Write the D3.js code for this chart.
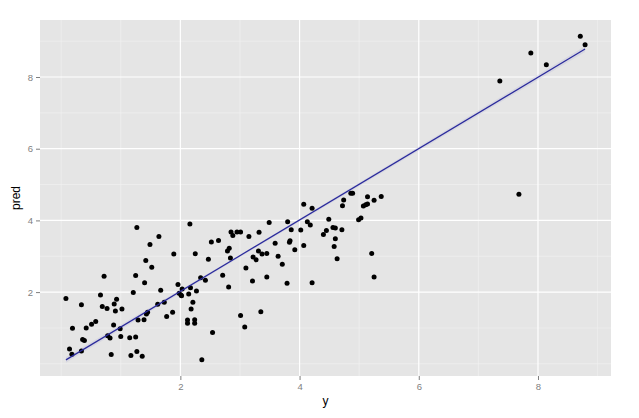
<!DOCTYPE html>
<html><head><meta charset="utf-8">
<script src="https://cdn.jsdelivr.net/npm/d3@7"></script>
<style>body{margin:0;background:#fff}svg{display:block}text{font-family:"Liberation Sans",Arial,sans-serif}</style>
</head><body>
<script>
const yObs = [0.08,0.14,0.18,0.19,0.34,0.34,0.36,0.39,0.42,0.51,0.58,0.66,0.69,0.72,0.77,0.78,0.82,0.84,0.88,0.89,0.91,0.93,0.99,1.00,1.02,1.15,1.17,1.21,1.25,1.25,1.27,1.27,1.29,1.36,1.39,1.40,1.42,1.43,1.45,1.49,1.52,1.62,1.64,1.67,1.73,1.77,1.87,1.89,1.96,1.98,2.01,2.03,2.02,2.12,2.12,2.14,2.16,2.17,2.18,2.21,2.24,2.24,2.25,2.27,2.34,2.36,2.42,2.47,2.52,2.54,2.64,2.71,2.79,2.81,2.82,2.84,2.85,2.95,2.88,3.01,3.01,3.08,3.10,3.15,3.21,3.22,3.27,3.31,3.32,3.35,3.37,3.45,3.45,3.49,3.59,3.64,3.71,3.80,3.79,3.83,3.84,3.86,3.92,4.02,4.07,4.07,4.13,4.18,4.21,4.21,4.40,4.45,4.49,4.56,4.60,4.58,4.60,4.63,4.71,4.72,4.74,4.86,4.89,4.99,5.03,5.07,5.11,5.14,5.14,5.21,5.25,5.25,5.37,7.36,7.68,7.88,8.14,8.71,8.79];
const predVals = [1.82,0.41,0.27,0.99,1.65,0.36,0.68,0.65,1.00,1.10,1.18,1.92,1.60,2.44,1.54,0.78,0.72,0.26,1.08,1.67,1.47,1.80,0.98,0.76,1.53,0.73,0.23,1.99,0.75,2.46,3.80,0.34,1.22,0.21,1.23,2.26,2.88,1.39,1.44,3.33,2.69,1.66,3.55,2.05,1.72,1.32,1.44,3.06,2.21,1.97,1.92,2.09,1.90,1.22,1.13,1.95,3.90,2.12,1.53,1.72,1.23,1.13,3.07,2.03,2.40,0.11,2.33,2.92,3.40,0.87,3.44,2.47,3.15,2.14,3.22,2.95,3.68,3.68,3.58,3.68,1.35,1.03,2.67,3.55,2.31,2.98,2.90,3.15,3.67,1.45,3.06,3.08,2.42,3.94,3.36,3.00,2.78,3.96,2.25,3.39,3.43,3.74,3.18,3.73,4.45,3.30,3.96,3.87,4.34,2.26,3.61,3.72,4.03,3.80,3.79,3.27,3.49,2.93,3.74,4.41,4.57,4.76,4.76,4.02,4.07,4.40,4.44,4.46,4.66,3.08,4.56,2.42,4.67,7.89,4.73,8.67,8.34,9.14,8.90];
const fitX = [0.08, 8.79];
const fitY = [0.11, 8.78];
const bandX = [0.08, 3.0, 8.79];
const bandLo = [0.03, 2.98, 8.70];
const bandHi = [0.19, 3.04, 8.86];
const xTicks = [2,4,6,8];
const yTicks = [2,4,6,8];
const minorTicks = [0,1,3,5,7,9];

const W = 639, H = 418;
const L = 40, R = 611, T = 20, B = 376;
const svg = d3.select("body").append("svg").attr("width", W).attr("height", H);
const x = d3.scaleLinear().domain([-0.355, 9.225]).range([L, R]);
const y = d3.scaleLinear().domain([-0.34, 9.59]).range([B, T]);

svg.append("rect").attr("x", L).attr("y", T).attr("width", R - L).attr("height", B - T).attr("fill", "#e5e5e5");
const g = svg.append("g");
g.selectAll(".mx").data(minorTicks).join("line").attr("x1", d => x(d)).attr("x2", d => x(d)).attr("y1", T).attr("y2", B).attr("stroke", "#f2f2f2").attr("stroke-width", 0.6);
g.selectAll(".my").data(minorTicks).join("line").attr("y1", d => y(d)).attr("y2", d => y(d)).attr("x1", L).attr("x2", R).attr("stroke", "#f2f2f2").attr("stroke-width", 0.6);
g.selectAll(".Mx").data(xTicks).join("line").attr("x1", d => x(d)).attr("x2", d => x(d)).attr("y1", T).attr("y2", B).attr("stroke", "#ffffff").attr("stroke-width", 1.2);
g.selectAll(".My").data(yTicks).join("line").attr("y1", d => y(d)).attr("y2", d => y(d)).attr("x1", L).attr("x2", R).attr("stroke", "#ffffff").attr("stroke-width", 1.2);

// confidence band
const band = d3.area().x(d => x(d[0])).y0(d => y(d[1])).y1(d => y(d[2]));
svg.append("path").datum(bandX.map((v, i) => [v, bandLo[i], bandHi[i]])).attr("d", band).attr("fill", "#9a9ad0").attr("opacity", 0.18);

// points
svg.append("g").selectAll("circle").data(yObs.map((v, i) => [v, predVals[i]])).join("circle")
  .attr("cx", d => x(d[0])).attr("cy", d => y(d[1])).attr("r", 2.5).attr("fill", "#000");

// fit line
svg.append("path").datum(fitX.map((v, i) => [v, fitY[i]])).attr("d", d3.line().x(d => x(d[0])).y(d => y(d[1])))
  .attr("stroke", "#2a2a9c").attr("stroke-width", 1.2).attr("fill", "none");

// axes
const xa = svg.append("g").attr("transform", `translate(0,${B})`).call(d3.axisBottom(x).tickValues(xTicks).tickSize(4).tickPadding(3).tickFormat(d3.format("d")));
const ya = svg.append("g").attr("transform", `translate(${L},0)`).call(d3.axisLeft(y).tickValues(yTicks).tickSize(4).tickPadding(3).tickFormat(d3.format("d")));
[xa, ya].forEach(a => {
  a.select(".domain").remove();
  a.selectAll("line").attr("stroke", "#7f7f7f");
  a.selectAll("text").attr("fill", "#7f7f7f").style("font-size", "9.5px");
});
svg.append("text").attr("x", (L + R) / 2).attr("y", 405).attr("text-anchor", "middle").style("font-size", "12px").attr("fill", "#000").text("y");
svg.append("text").attr("transform", `translate(20,${(T + B) / 2}) rotate(-90)`).attr("text-anchor", "middle").style("font-size", "12px").attr("fill", "#000").text("pred");
</script>
</body></html>
